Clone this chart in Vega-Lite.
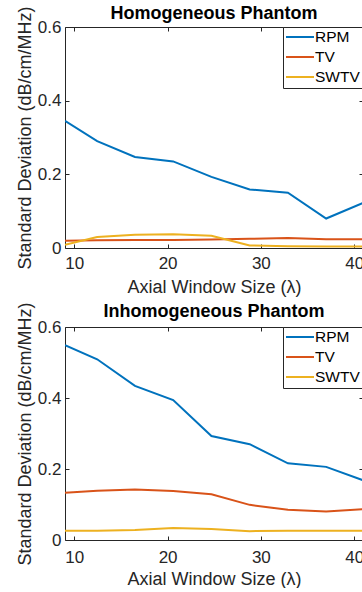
{
  "$schema": "https://vega.github.io/schema/vega-lite/v6.json",
  "padding": {"left": 16, "top": 4, "right": 0, "bottom": 0},
  "config": {
    "font": "Liberation Sans",
    "view": {"stroke": null},
    "axis": {
      "grid": false,
      "domainColor": "#262626",
      "tickColor": "#262626",
      "labelColor": "#262626",
      "titleColor": "#262626",
      "labelFontSize": 17,
      "titleFontSize": 18,
      "titleFontWeight": "normal",
      "tickSize": -4,
      "domainWidth": 1,
      "tickWidth": 1
    },
    "title": {"fontSize": 18, "fontWeight": "bold", "color": "#000000", "offset": 4, "anchor": "middle", "frame": "group"},
    "legend": {
      "strokeColor": "#262626",
      "fillColor": "#ffffff",
      "padding": 2,
      "symbolType": "M-1,0H3",
      "symbolSize": 196,
      "symbolStrokeWidth": 2,
      "labelFontSize": 15.5,
      "labelColor": "#000000",
      "labelOffset": 14,
      "rowPadding": 3,
      "cornerRadius": 0
    },
    "concat": {"spacing": 5}
  },
  "data": {
    "values": [
      {"panel": "H", "method": "RPM", "x": 9, "y": 0.345},
      {"panel": "H", "method": "RPM", "x": 12.45, "y": 0.290},
      {"panel": "H", "method": "RPM", "x": 16.5, "y": 0.247},
      {"panel": "H", "method": "RPM", "x": 20.6, "y": 0.235},
      {"panel": "H", "method": "RPM", "x": 24.7, "y": 0.193},
      {"panel": "H", "method": "RPM", "x": 28.8, "y": 0.159},
      {"panel": "H", "method": "RPM", "x": 32.9, "y": 0.150},
      {"panel": "H", "method": "RPM", "x": 37.0, "y": 0.080},
      {"panel": "H", "method": "RPM", "x": 41.1, "y": 0.124},
      {"panel": "H", "method": "TV", "x": 9, "y": 0.020},
      {"panel": "H", "method": "TV", "x": 12.45, "y": 0.021},
      {"panel": "H", "method": "TV", "x": 16.5, "y": 0.022},
      {"panel": "H", "method": "TV", "x": 20.6, "y": 0.022},
      {"panel": "H", "method": "TV", "x": 24.7, "y": 0.023},
      {"panel": "H", "method": "TV", "x": 28.8, "y": 0.025},
      {"panel": "H", "method": "TV", "x": 32.9, "y": 0.027},
      {"panel": "H", "method": "TV", "x": 37.0, "y": 0.024},
      {"panel": "H", "method": "TV", "x": 41.1, "y": 0.024},
      {"panel": "H", "method": "SWTV", "x": 9, "y": 0.009},
      {"panel": "H", "method": "SWTV", "x": 12.45, "y": 0.030},
      {"panel": "H", "method": "SWTV", "x": 16.5, "y": 0.036},
      {"panel": "H", "method": "SWTV", "x": 20.6, "y": 0.037},
      {"panel": "H", "method": "SWTV", "x": 24.7, "y": 0.033},
      {"panel": "H", "method": "SWTV", "x": 28.8, "y": 0.007},
      {"panel": "H", "method": "SWTV", "x": 32.9, "y": 0.005},
      {"panel": "H", "method": "SWTV", "x": 37.0, "y": 0.004},
      {"panel": "H", "method": "SWTV", "x": 41.1, "y": 0.004},
      {"panel": "I", "method": "RPM", "x": 9, "y": 0.549},
      {"panel": "I", "method": "RPM", "x": 12.45, "y": 0.509},
      {"panel": "I", "method": "RPM", "x": 16.5, "y": 0.434},
      {"panel": "I", "method": "RPM", "x": 20.6, "y": 0.394},
      {"panel": "I", "method": "RPM", "x": 24.7, "y": 0.293},
      {"panel": "I", "method": "RPM", "x": 28.8, "y": 0.270},
      {"panel": "I", "method": "RPM", "x": 32.9, "y": 0.216},
      {"panel": "I", "method": "RPM", "x": 37.0, "y": 0.206},
      {"panel": "I", "method": "RPM", "x": 41.1, "y": 0.167},
      {"panel": "I", "method": "TV", "x": 9, "y": 0.133},
      {"panel": "I", "method": "TV", "x": 12.45, "y": 0.139},
      {"panel": "I", "method": "TV", "x": 16.5, "y": 0.142},
      {"panel": "I", "method": "TV", "x": 20.6, "y": 0.138},
      {"panel": "I", "method": "TV", "x": 24.7, "y": 0.129},
      {"panel": "I", "method": "TV", "x": 28.8, "y": 0.099},
      {"panel": "I", "method": "TV", "x": 32.9, "y": 0.085},
      {"panel": "I", "method": "TV", "x": 37.0, "y": 0.080},
      {"panel": "I", "method": "TV", "x": 41.1, "y": 0.087},
      {"panel": "I", "method": "SWTV", "x": 9, "y": 0.026},
      {"panel": "I", "method": "SWTV", "x": 12.45, "y": 0.026},
      {"panel": "I", "method": "SWTV", "x": 16.5, "y": 0.028},
      {"panel": "I", "method": "SWTV", "x": 20.6, "y": 0.034},
      {"panel": "I", "method": "SWTV", "x": 24.7, "y": 0.031},
      {"panel": "I", "method": "SWTV", "x": 28.8, "y": 0.025},
      {"panel": "I", "method": "SWTV", "x": 32.9, "y": 0.026},
      {"panel": "I", "method": "SWTV", "x": 37.0, "y": 0.026},
      {"panel": "I", "method": "SWTV", "x": 41.1, "y": 0.026}
    ]
  },
  "resolve": {"scale": {"color": "independent"}},
  "vconcat": [
    {
      "title": {"text": "Homogeneous Phantom", "dy": 21},
      "width": 298,
      "height": 221,
      "transform": [{"filter": "datum.panel === 'H'"}],
      "layer": [
        {
          "mark": {"type": "line", "strokeWidth": 2, "clip": true},
          "encoding": {
            "x": {"field": "x", "type": "quantitative", "scale": {"domain": [9, 40.95], "nice": false, "zero": false},
                  "axis": {"values": [10, 20, 30, 40], "title": "Axial Window Size (λ)", "labelPadding": 11, "titlePadding": 7}},
            "y": {"field": "y", "type": "quantitative", "scale": {"domain": [0, 0.6], "nice": false},
                  "axis": {"values": [0, 0.2, 0.4, 0.6], "format": "~g", "title": "Standard Deviation (dB/cm/MHz)", "labelPadding": 8, "titlePadding": 3}},
            "color": {"field": "method", "type": "nominal",
                      "scale": {"domain": ["RPM", "TV", "SWTV"], "range": ["#0072BD", "#D95319", "#EDB120"]},
                      "legend": {"orient": "none", "legendX": 218, "legendY": 0, "title": null}}
          }
        },
        {
          "mark": {"type": "line", "opacity": 0, "clip": true},
          "encoding": {
            "x": {"field": "x", "type": "quantitative", "axis": {"orient": "top", "values": [10, 20, 30, 40], "labels": false, "title": null}},
            "y": {"field": "y", "type": "quantitative", "axis": {"orient": "right", "values": [0, 0.2, 0.4, 0.6], "labels": false, "title": null, "domain": false}},
            "detail": {"field": "method"}
          }
        }
      ],
      "resolve": {"axis": {"x": "independent", "y": "independent"}}
    },
    {
      "title": {"text": "Inhomogeneous Phantom", "dy": 23},
      "width": 298,
      "height": 213,
      "transform": [{"filter": "datum.panel === 'I'"}],
      "layer": [
        {
          "mark": {"type": "line", "strokeWidth": 2, "clip": true},
          "encoding": {
            "x": {"field": "x", "type": "quantitative", "scale": {"domain": [9, 40.95], "nice": false, "zero": false},
                  "axis": {"values": [10, 20, 30, 40], "title": "Axial Window Size (λ)", "labelPadding": 13, "titlePadding": 5}},
            "y": {"field": "y", "type": "quantitative", "scale": {"domain": [0, 0.6], "nice": false},
                  "axis": {"values": [0, 0.2, 0.4, 0.6], "format": "~g", "title": "Standard Deviation (dB/cm/MHz)", "labelPadding": 8, "titlePadding": 3}},
            "color": {"field": "method", "type": "nominal",
                      "scale": {"domain": ["RPM", "TV", "SWTV"], "range": ["#0072BD", "#D95319", "#EDB120"]},
                      "legend": {"orient": "none", "legendX": 218, "legendY": 0, "title": null}}
          }
        },
        {
          "mark": {"type": "line", "opacity": 0, "clip": true},
          "encoding": {
            "x": {"field": "x", "type": "quantitative", "axis": {"orient": "top", "values": [10, 20, 30, 40], "labels": false, "title": null}},
            "y": {"field": "y", "type": "quantitative", "axis": {"orient": "right", "values": [0, 0.2, 0.4, 0.6], "labels": false, "title": null, "domain": false}},
            "detail": {"field": "method"}
          }
        }
      ],
      "resolve": {"axis": {"x": "independent", "y": "independent"}}
    }
  ]
}
